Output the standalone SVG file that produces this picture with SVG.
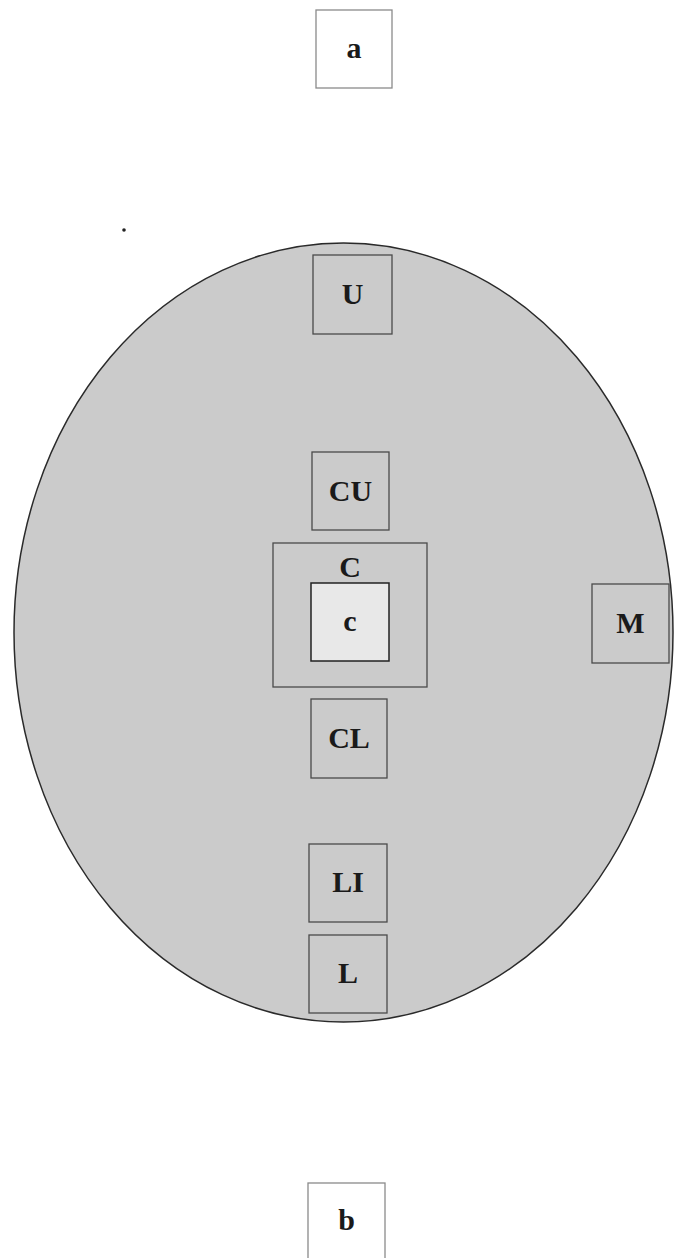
<svg xmlns="http://www.w3.org/2000/svg" width="674" height="1258" viewBox="0 0 674 1258">
<style>
.bx{fill:none;stroke:#4a4a4a;stroke-width:1.3}
.wb{fill:#ffffff;stroke:#8a8a8a;stroke-width:1.3}
.t{font-family:"Liberation Serif","Times New Roman",serif;font-weight:bold;font-size:30px;fill:#1a1a1a;text-anchor:middle}
</style>
<rect x="0" y="0" width="674" height="1258" fill="#ffffff"/>
<circle cx="124" cy="230" r="1.8" fill="#222"/>
<ellipse id="field" cx="343.5" cy="632.5" rx="329.5" ry="389.5" fill="#cbcbcb" stroke="#2a2a2a" stroke-width="1.5"/>
<g id="connectors"></g>
<g id="node-a"><rect class="wb" x="316" y="10" width="76" height="78"/><text class="t" x="354" y="58">a</text></g>
<g id="node-U"><rect class="bx" x="313" y="255" width="79" height="79"/><text class="t" x="352.5" y="304">U</text></g>
<g id="node-CU"><rect class="bx" x="312" y="452" width="77" height="78"/><text class="t" x="350.5" y="501">CU</text></g>
<g id="node-C"><rect class="bx" x="273" y="543" width="154" height="144"/><text class="t" x="350" y="577">C</text></g>
<g id="node-c"><rect x="311" y="583" width="78" height="78" fill="#e8e8e8" stroke="#222" stroke-width="1.5"/><text class="t" x="350" y="631">c</text></g>
<g id="node-M"><rect class="bx" x="592" y="584" width="77" height="79"/><text class="t" x="630.5" y="633">M</text></g>
<g id="node-CL"><rect class="bx" x="311" y="699" width="76" height="79"/><text class="t" x="349" y="748">CL</text></g>
<g id="node-LI"><rect class="bx" x="309" y="844" width="78" height="78"/><text class="t" x="348" y="892">LI</text></g>
<g id="node-L"><rect class="bx" x="309" y="935" width="78" height="78"/><text class="t" x="348" y="983">L</text></g>
<g id="node-b"><rect class="wb" x="308" y="1183" width="77" height="80"/><text class="t" x="346.5" y="1230">b</text></g>
</svg>
